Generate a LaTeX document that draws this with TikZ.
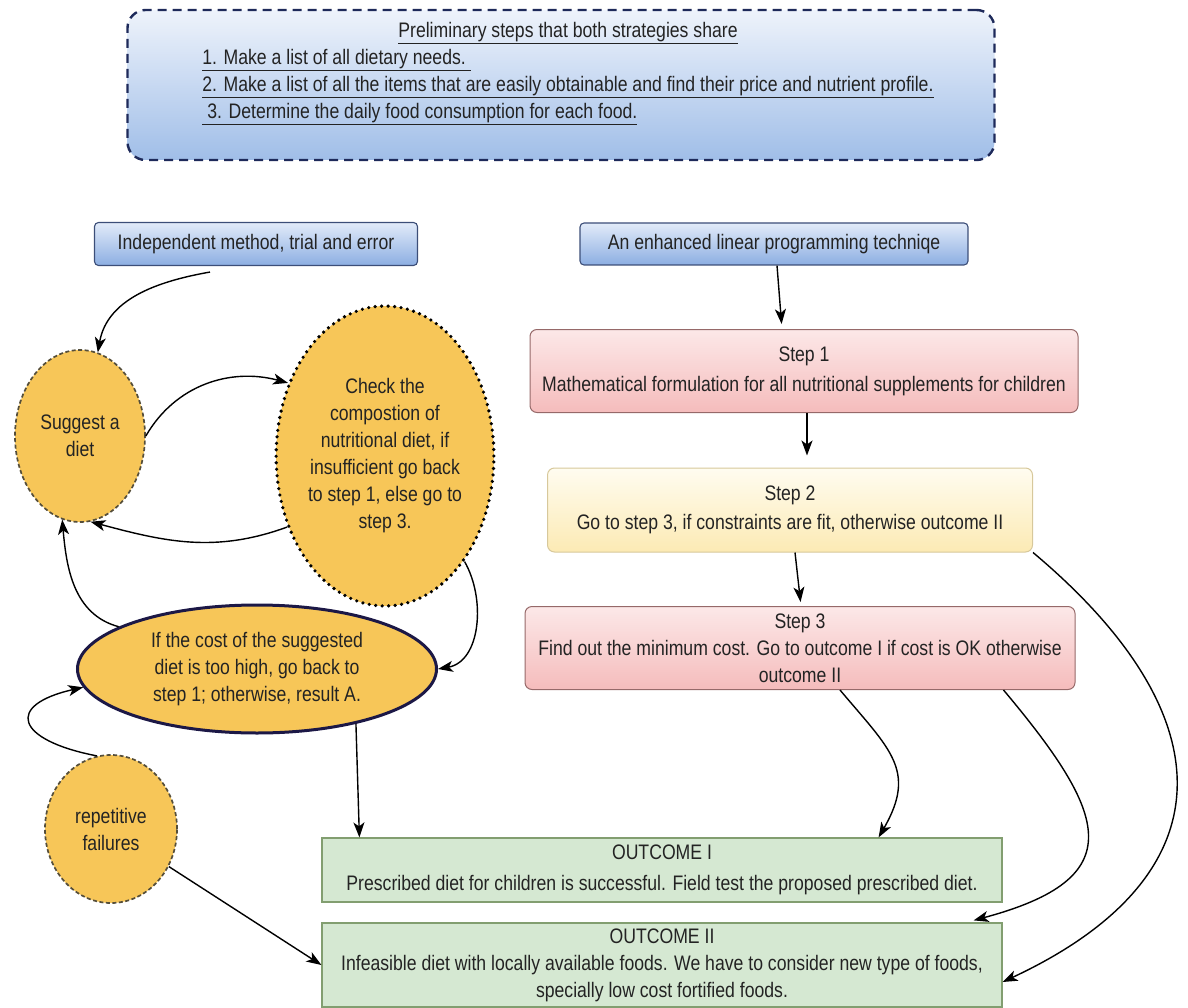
\documentclass[tikz,border=0pt]{standalone}
\usepackage{fontspec}
\setmainfont{Liberation Sans}[FakeStretch=0.84]
\usetikzlibrary{shapes.geometric,arrows.meta}

\definecolor{textgray}{RGB}{35,35,35}
\definecolor{prelimtop}{RGB}{238,243,251}
\definecolor{prelimbot}{RGB}{160,190,232}
\definecolor{prelimline}{RGB}{30,42,90}
\definecolor{headtop}{RGB}{226,235,249}
\definecolor{headbot}{RGB}{140,174,226}
\definecolor{headline}{RGB}{60,78,120}
\definecolor{dietfill}{RGB}{247,198,88}
\definecolor{dietline}{RGB}{85,78,58}
\definecolor{costline}{RGB}{28,24,70}
\definecolor{pinktop}{RGB}{252,232,232}
\definecolor{pinkbot}{RGB}{245,188,188}
\definecolor{pinkline}{RGB}{150,105,105}
\definecolor{creamtop}{RGB}{255,252,240}
\definecolor{creambot}{RGB}{252,234,180}
\definecolor{creamline}{RGB}{215,200,155}
\definecolor{outfill}{RGB}{213,232,210}
\definecolor{outline}{RGB}{130,158,112}

\begin{document}
\begin{tikzpicture}
[x=1pt,y=1pt,
every node/.style={
  font=\fontsize{21}{27}\selectfont, text=textgray, inner sep=0pt
},
arr/.style={
  -{Stealth[length=15pt,width=11pt,inset=4pt]}, line width=1.4pt, black
},
prelim/.style={
  draw=prelimline, line width=2.4pt, dash pattern=on 9pt off 6pt,
  rounded corners=18pt, top color=prelimtop, bottom color=prelimbot
},
strategy/.style={
  draw=headline, line width=1.1pt, rounded corners=4pt,
  top color=headtop, bottom color=headbot
},
diet/.style={
  ellipse, fill=dietfill, align=center
},
dashedrim/.style={
  draw=dietline, line width=1.7pt, dash pattern=on 4pt off 2.5pt
},
dottedrim/.style={
  draw=black, line width=3.6pt, line cap=round, dash pattern=on 0pt off 6.5pt
},
costrim/.style={
  draw=costline, line width=3pt
},
stepbox/.style={
  draw=pinkline, line width=1pt, rounded corners=7pt, align=center,
  top color=pinktop, bottom color=pinkbot
},
fitbox/.style={
  draw=creamline, line width=1pt, rounded corners=7pt, align=center,
  top color=creamtop, bottom color=creambot
},
outcome/.style={
  draw=outline, line width=1.2pt, fill=outfill, align=center
}
]
\useasboundingbox (0,0) rectangle (1188,-1008);

% Shared preliminary steps
\node[prelim, minimum width=867, minimum height=150] (prelim) at (561,-85) {};
\node (prelimtext) at (568,-73) {%
  \begin{tabular}{@{}l@{}}
  \multicolumn{1}{c}{\underline{Preliminary steps that both strategies share}}\\
  \underline{1. Make a list of all dietary needs.\ }\\
  \underline{2. Make a list of all the items that are easily obtainable and find their price and nutrient profile.}\\
  \underline{\ 3. Determine the daily food consumption for each food.}
  \end{tabular}};

% The two strategies
\node[strategy, minimum width=323, minimum height=43] (trial) at (256,-244) {Independent method, trial and error};
\node[strategy, minimum width=388, minimum height=42] (linprog) at (774,-244) {An enhanced linear programming techniqe};

% Trial and error loop
\node[diet, dashedrim, minimum width=130, minimum height=172] (suggest) at (80,-436) {Suggest a\\diet};
\node[diet, dottedrim, minimum width=190, minimum height=300] (check) at (385,-456) {Check the\\compostion of\\nutritional diet, if\\insufficient go back\\to step 1, else go to\\step 3.};
\node[diet, costrim, minimum width=359, minimum height=128] (cost) at (257,-669) {If the cost of the suggested\\diet is too high, go back to\\step 1; otherwise, result A.};
\node[diet, dashedrim, minimum width=132, minimum height=148] (failures) at (111,-829) {repetitive\\failures};

% Linear programming steps
\node[stepbox, minimum width=548, minimum height=83] (step1) at (804,-371) {Step 1\\[3pt]Mathematical formulation for all nutritional supplements for children};
\node[fitbox, minimum width=485, minimum height=84] (step2) at (790,-510) {Step 2\\[2pt]Go to step 3, if constraints are fit, otherwise outcome II};
\node[stepbox, minimum width=550, minimum height=83] (step3) at (800,-648) {Step 3\\Find out the minimum cost. Go to outcome I if cost is OK otherwise\\outcome II};

% Outcomes
\node[outcome, minimum width=680, minimum height=64] (out1) at (662,-870) {OUTCOME I\\[4pt]Prescribed diet for children is successful. Field test the proposed prescribed diet.};
\node[outcome, minimum width=680, minimum height=84] (out2) at (662,-965) {OUTCOME II\\Infeasible diet with locally available foods. We have to consider new type of foods,\\specially low cost fortified foods.};

% Connectors, left side
\draw[arr] ([xshift=-46pt,yshift=-6pt]trial.south) to[out=190,in=80] (suggest.78);
\draw[arr] (suggest.east) to[out=60,in=165] (check.143);
\draw[arr] (check.216) to[out=200,in=-15] (suggest.-83);
\draw[arr] (cost.163) to[out=165,in=-85] (suggest.-102);
\draw[arr] (check.-53) to[out=-60,in=10] (cost.east);
\draw[arr] (cost.-29) -- ([xshift=38pt]out1.north west);
\draw[arr] (failures.101) .. controls (15,-740) and (5,-705) .. (cost.186);
\draw[arr] (failures.-33) -- (out2.west);

% Connectors, right side
\draw[arr, shorten >=5pt] ([xshift=3pt]linprog.south) -- ([xshift=-22pt]step1.north);
\draw[arr, shorten >=12pt] ([xshift=3pt]step1.south) -- ([xshift=17pt]step2.north);
\draw[arr, shorten >=4pt] ([xshift=5pt]step2.south) -- ([xshift=1pt]step3.north);
\draw[arr] ([xshift=40pt]step3.south) to[out=-50,in=60,looseness=1.3] ([xshift=-124pt]out1.north east);
\draw[arr] ([xshift=-72pt]step3.south east) to[out=-50,in=15,looseness=1.8] ([xshift=-29pt,yshift=2pt]out2.north east);
\draw[arr] (step2.south east) to[out=-40,in=25,looseness=1.5] ([yshift=-17pt]out2.east);

\end{tikzpicture}
\end{document}
